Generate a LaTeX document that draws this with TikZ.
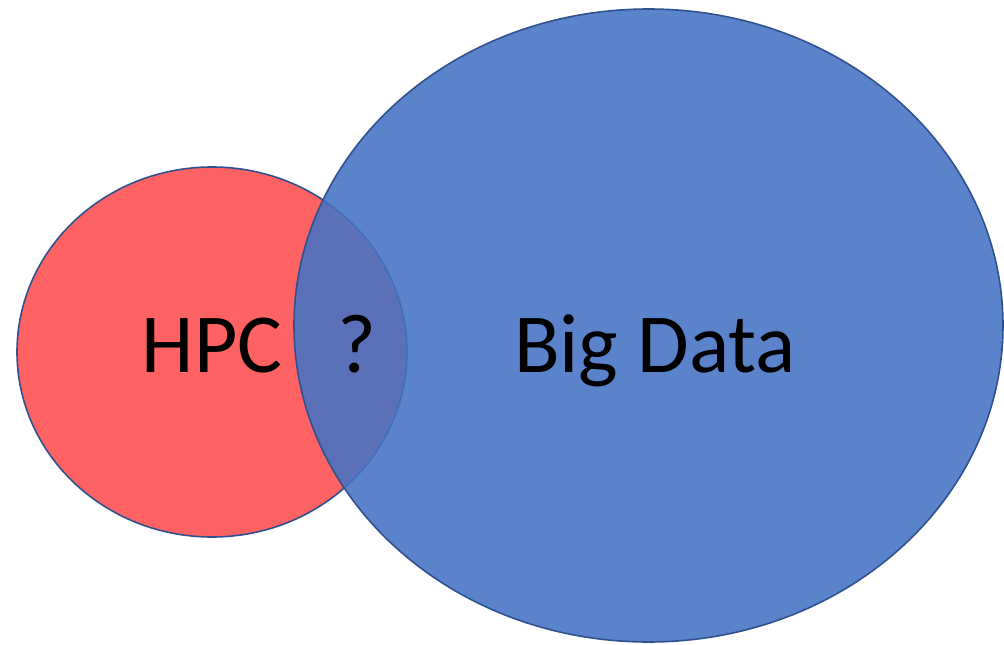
\documentclass[tikz,border=0pt]{standalone}
\usepackage{fontspec}
\setmainfont{Carlito}
\usetikzlibrary{shapes.geometric}
\definecolor{hpcred}{HTML}{FF6262}
\definecolor{bdblue}{HTML}{4472C4}
\definecolor{rim}{HTML}{2F528F}
\tikzset{
  setshape/.style={ellipse, draw=rim, line width=1.6pt, inner sep=0pt},
  setlabel/.style={font=\fontsize{84}{84}\selectfont, text=black, inner sep=0pt, anchor=base}
}
\begin{document}
\begin{tikzpicture}[x=1pt, y=-1pt]
  \useasboundingbox (0,0) rectangle (1004,645);
  % HPC set
  \node[setshape, fill=hpcred, minimum width=390pt, minimum height=370pt] (hpc) at (212,352) {};
  % Big Data set, translucent so the overlap shows through
  \node[setshape, fill=bdblue, fill opacity=0.88, minimum width=709pt, minimum height=633pt] (bigdata) at (648.5,325.5) {};
  % labels
  \node[setlabel] (hpclabel) at (212,372) {HPC};
  \node[setlabel] (qlabel) at (357,372) {?};
  \node[setlabel] (bdlabel) at (655,372) {Big Data};
\end{tikzpicture}
\end{document}
